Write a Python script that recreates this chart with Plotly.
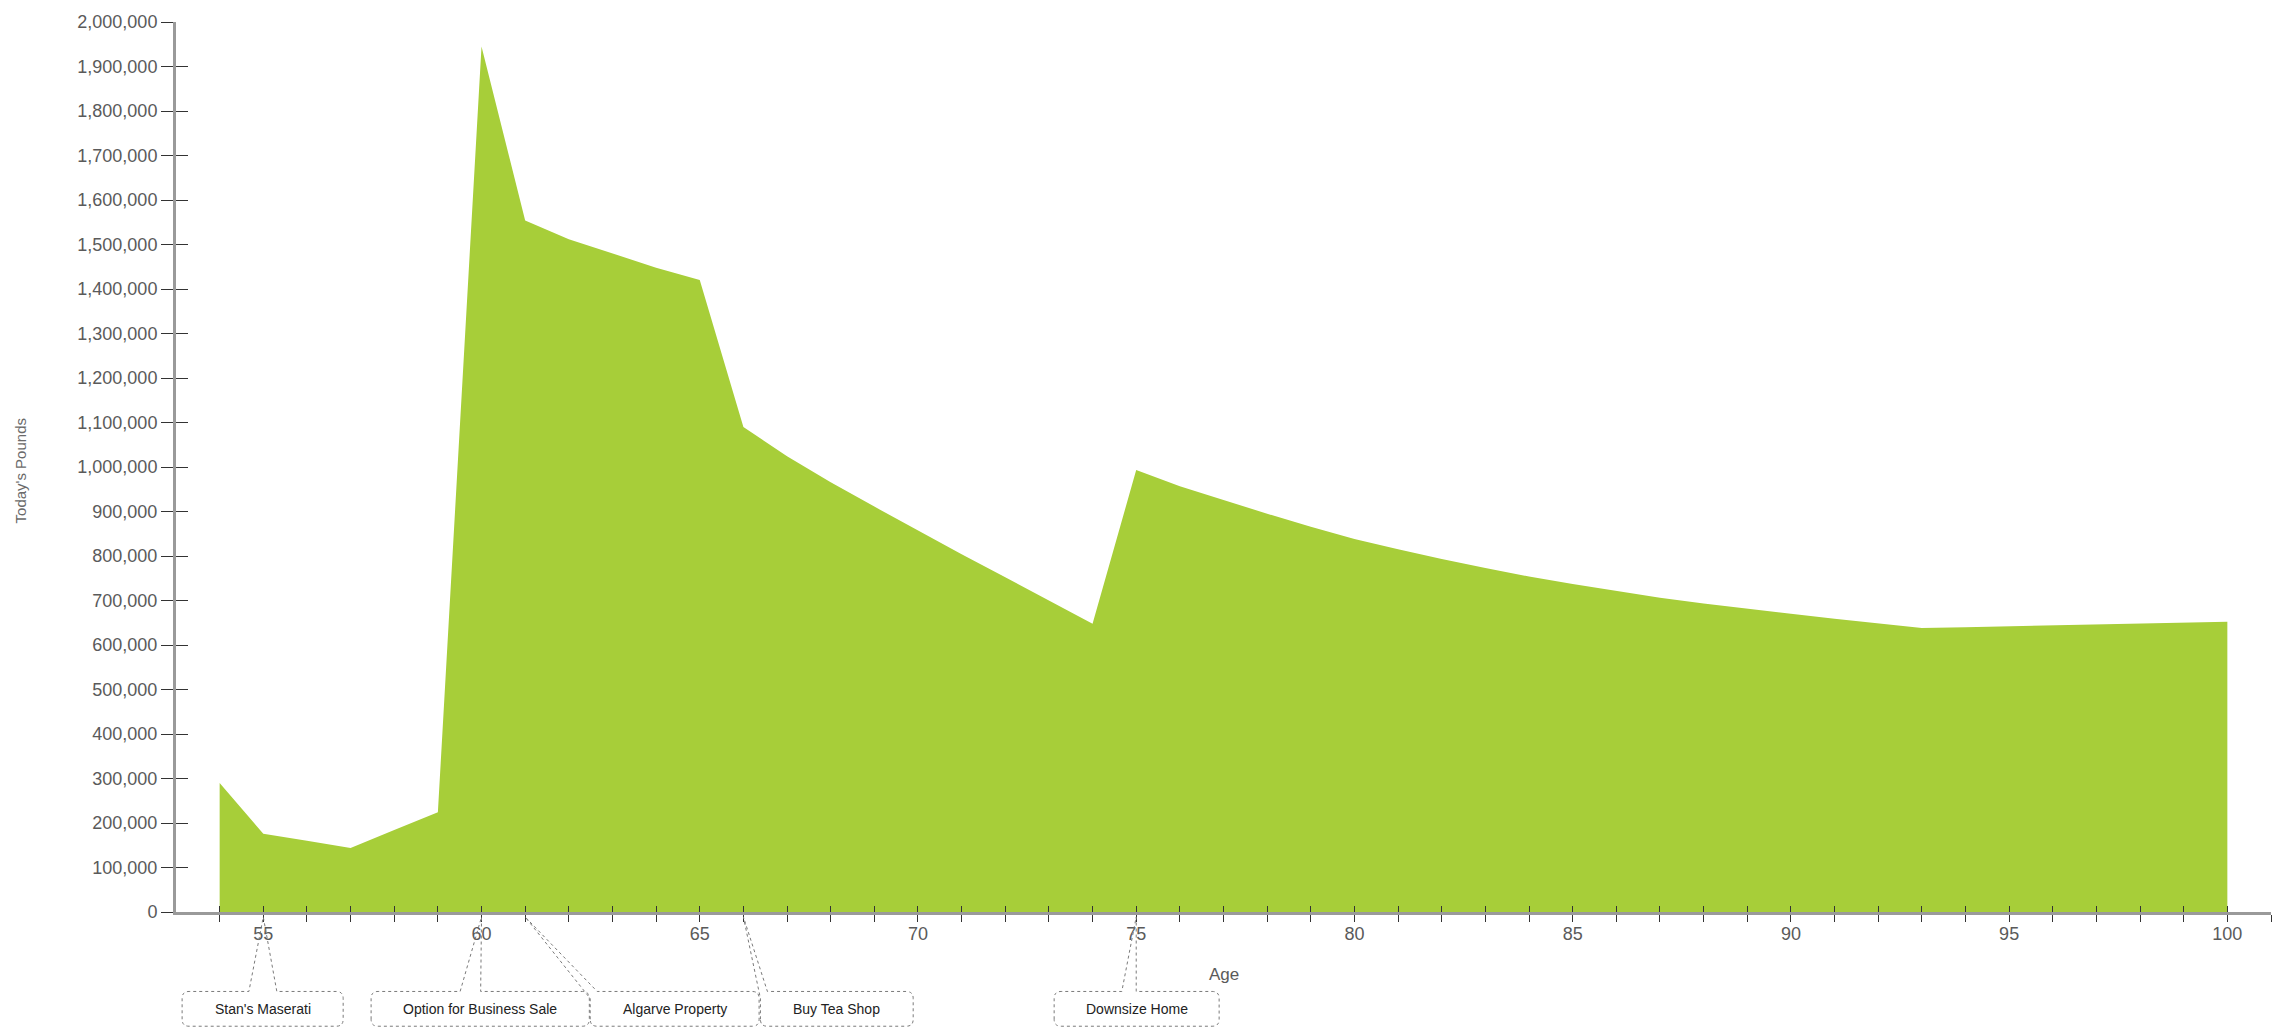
import plotly.graph_objects as go

# ---------------- data ----------------
ages = list(range(54, 101))
values = [
    290000, 176000, 160000, 144000, 184000, 224000,          # 54-59
    1945000, 1554000, 1512000, 1480000, 1448000, 1420000,   # 60-65
    1090000, 1024000, 966000, 911000, 857000, 804000,       # 66-71
    752000, 700000, 648000,                                 # 72-74
    993000, 957000, 926000, 895000, 866000, 838000,         # 75-80
    815000, 793000, 773000, 754000, 737000, 721000,         # 81-86
    706000, 693000, 681000, 670000, 659000, 648000,         # 87-92
    638000, 640000, 642000, 644000, 646000, 648000,         # 93-98
    650000, 652000,                                         # 99-100
]
event_ages = [55, 60, 61, 66, 75]
event_labels = ["Stan's Maserati", "Option for Business Sale", "Algarve Property",
                "Buy Tea Shop", "Downsize Home"]
x_tick_vals = list(range(54, 102))
y_tick_vals = list(range(0, 2000001, 100000))

# ---------------- layout constants ----------------
X_MIN, X_MAX = 53, 101
Y_MIN, Y_MAX = 0, 2000000
ML, MR, MT, MB = 176, 19, 16, 118
W, H = 2290, 1030
PW = W - ML - MR
PH = H - MT - MB

FILL = "#A7CE39"
AXIS_GREY = "#9a9a9a"
TICK_COL = "#333333"
LABEL_COL = "#5a5a5a"
FONT = "Liberation Sans, Arial, sans-serif"

# callout box placement (in age units) -- layout, not data
box_extents = [(53.14, 56.83), (57.47, 62.47), (62.49, 66.36), (66.39, 69.89), (73.12, 76.90)]
wedge_bases = [(54.67, 55.31), (59.51, 59.98), None, None, (74.67, 75.00)]


def xp(age):
    return (age - X_MIN) / (X_MAX - X_MIN)


def yp(pix_below_axis):
    return -pix_below_axis / PH


fig = go.Figure()
fig.add_trace(go.Scatter(
    x=ages, y=values, mode="lines", fill="tozeroy",
    fillcolor=FILL, line=dict(width=0, color=FILL),
    hoverinfo="x+y", showlegend=False,
))
# empty trace on overlay axes (for ticks crossing the axis lines)
fig.add_trace(go.Scatter(x=[], y=[], xaxis="x2", yaxis="y2", showlegend=False))

tick_text = [str(v) if v % 5 == 0 and v <= 100 else "" for v in x_tick_vals]

fig.update_layout(
    width=W, height=H,
    margin=dict(l=ML, r=MR, t=MT, b=MB, pad=0),
    paper_bgcolor="white", plot_bgcolor="white",
    font=dict(family=FONT, color=LABEL_COL),
    showlegend=False,
    xaxis=dict(
        range=[X_MIN, X_MAX], showgrid=False, zeroline=False,
        showline=True, linecolor=AXIS_GREY, linewidth=3,
        tickmode="array", tickvals=x_tick_vals, ticktext=tick_text,
        ticks="outside", ticklen=7, tickwidth=1, tickcolor=TICK_COL,
        tickfont=dict(size=18, color=LABEL_COL, family=FONT),
        ticklabelstandoff=-4,
        fixedrange=True,
    ),
    yaxis=dict(
        range=[Y_MIN, Y_MAX], showgrid=False, zeroline=False,
        showline=True, linecolor=AXIS_GREY, linewidth=3,
        tickmode="array", tickvals=y_tick_vals, tickformat=",d",
        ticks="outside", ticklen=12, tickwidth=1, tickcolor=TICK_COL,
        tickfont=dict(size=18, color=LABEL_COL, family=FONT),
        fixedrange=True,
    ),
    xaxis2=dict(
        overlaying="x", anchor="y", range=[X_MIN, X_MAX], showgrid=False,
        zeroline=False, showline=False, tickmode="array", tickvals=x_tick_vals,
        ticks="inside", ticklen=6, tickwidth=1, tickcolor=TICK_COL,
        showticklabels=False, fixedrange=True,
    ),
    yaxis2=dict(
        overlaying="y", anchor="x", side="left", range=[Y_MIN, Y_MAX], showgrid=False,
        zeroline=False, showline=False, tickmode="array", tickvals=y_tick_vals,
        ticks="inside", ticklen=12, tickwidth=1, tickcolor=TICK_COL,
        showticklabels=False, fixedrange=True,
    ),
)

annotations = [
    dict(text="Age", xref="paper", yref="paper", x=0.5, y=0, yshift=-62,
         xanchor="center", yanchor="middle", showarrow=False,
         font=dict(size=17, color=LABEL_COL, family=FONT)),
    dict(text="Today's Pounds", xref="paper", yref="paper", x=0, y=0.495,
         xshift=-156, xanchor="center", yanchor="middle", textangle=-90,
         showarrow=False, font=dict(size=15, color="#6a6a6a", family=FONT)),
]

shapes = []
yt = yp(80)
yb = yp(115)
ty = yp(5)
rx = 7 / PW
ry = 7 / PH
for tip_age, label, (a0, a1), wb in zip(event_ages, event_labels, box_extents, wedge_bases):
    x0, x1, tx = xp(a0), xp(a1), xp(tip_age)
    parts = [f"M {x0},{yb + ry}", f"L {x0},{yt - ry}"]
    if wb is None:
        parts += [f"L {tx},{ty}", f"L {x0 + rx},{yt}"]
    else:
        b0, b1 = xp(wb[0]), xp(wb[1])
        parts += [f"Q {x0},{yt} {x0 + rx},{yt}", f"L {b0},{yt}", f"L {tx},{ty}", f"L {b1},{yt}"]
    parts += [f"L {x1 - rx},{yt}", f"Q {x1},{yt} {x1},{yt - ry}",
              f"L {x1},{yb + ry}", f"Q {x1},{yb} {x1 - rx},{yb}",
              f"L {x0 + rx},{yb}", f"Q {x0},{yb} {x0},{yb + ry}", "Z"]
    shapes.append(dict(type="path", xref="paper", yref="paper", path=" ".join(parts),
                       line=dict(color="#7a7a7a", width=1, dash="dot"),
                       fillcolor="rgba(255,255,255,0)", layer="above"))
    annotations.append(dict(text=label, xref="paper", yref="paper",
                            x=(x0 + x1) / 2, y=(yt + yb) / 2,
                            xanchor="center", yanchor="middle", showarrow=False,
                            font=dict(size=14, color="#222222", family=FONT)))

fig.update_layout(annotations=annotations, shapes=shapes)

fig.write_html("out.html", config={"displayModeBar": False})
